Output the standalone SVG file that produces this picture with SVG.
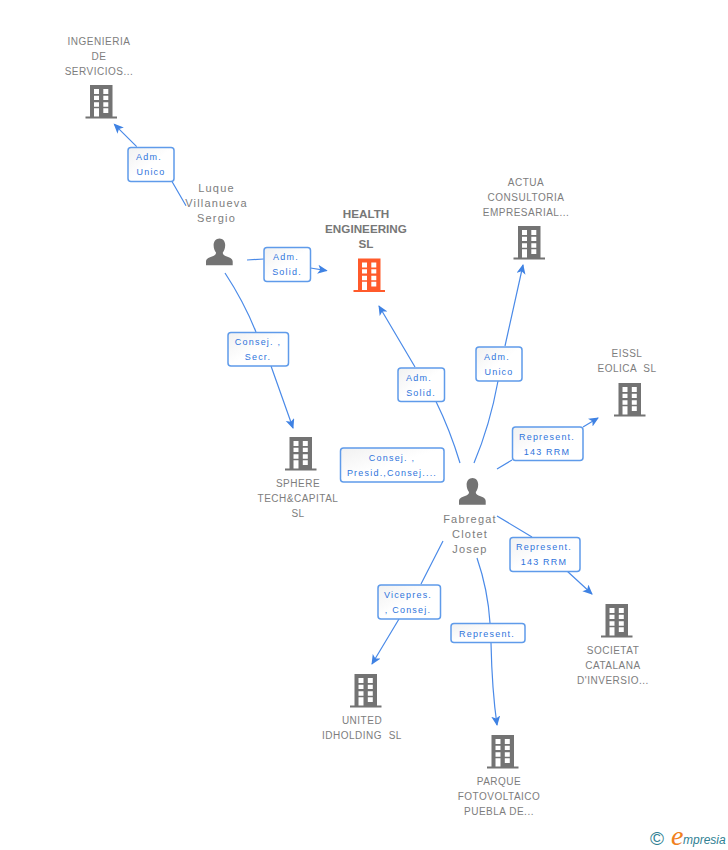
<svg xmlns="http://www.w3.org/2000/svg" width="728" height="850" viewBox="0 0 728 850">
<style>
text{font-family:"Liberation Sans",Arial,sans-serif;white-space:pre}
.n{font-size:10px;fill:#7d7d7d;text-anchor:middle;letter-spacing:.5px}
.p{font-size:11px;fill:#7d7d7d;text-anchor:middle;letter-spacing:1.2px}
.h{font-size:11.7px;font-weight:bold;fill:#777;text-anchor:middle}
.l{font-size:9px;fill:#2f74dc;text-anchor:middle;letter-spacing:1.2px}
.c{fill:none;stroke:#4a8ae8;stroke-width:1.2}
.b{fill:url(#g);stroke:#5f9bea;stroke-width:1.5}
</style>
<defs>
<linearGradient id="g" x1="0" y1="0" x2="1" y2="1"><stop offset="0" stop-color="#f1f1f1"/><stop offset=".5" stop-color="#fff"/></linearGradient>
<marker id="a" markerWidth="11" markerHeight="10" refX="9" refY="4.5" orient="auto" markerUnits="userSpaceOnUse"><path d="M0 0L10 4.5L0 9L2.5 4.5Z" fill="#3f82e3"/></marker>
<symbol id="bld" width="32" height="34" viewBox="0 0 32 34" overflow="visible">
<path fill-rule="evenodd" fill="currentColor" d="M4.5 0H27V31.5H31.5V33.5H0V31.5H4.5ZM8.5 4V9H13.5V4ZM17.8 4V9H22.8V4ZM8.5 10.7V15H13.5V10.7ZM17.8 10.7V15H22.8V10.7ZM8.5 17.3V21.7H13.5V17.3ZM17.8 17.3V21.7H22.8V17.3ZM8.5 23.3V31.5H13.5V23.3ZM17.8 23.3V28H22.8V23.3Z"/>
</symbol>
<symbol id="psn" width="27" height="27" viewBox="0 0 27 27" overflow="visible">
<path fill="#737373" d="M13.500 0C16.800 0 19.200 2.800 19.200 6.500C19.200 10 18 12.500 16.800 14C16.800 15.800 17.500 16.600 19.500 17.400C23 18.700 26.700 19.600 26.700 23V26.700H0V23C0 19.600 3.800 18.700 7.300 17.400C9.300 16.600 10 15.800 10 14C8.800 12.500 7.600 10 7.600 6.500C7.600 2.800 10.200 0 13.500 0Z"/>
</symbol>
</defs>
<g id="connectors">
<path class="c" d="M186 205.700L171.700 181M136.700 146.700L114.300 124.300" marker-end="url(#a)"/>
<path class="c" d="M247 260L263.700 259M310.500 268L326.700 270.700" marker-end="url(#a)"/>
<path class="c" d="M225 273Q244 302 256 332M271 366L293 428" marker-end="url(#a)"/>
<path class="c" d="M460 463Q450 430 436 401.500M415 367L379 306" marker-end="url(#a)"/>
<path class="c" d="M474 463Q490 425 498 381M505 346L523 265" marker-end="url(#a)"/>
<path class="c" d="M497 469L512 460M583 427L598 418" marker-end="url(#a)"/>
<path class="c" d="M497 516L532 537M567 571L592 594" marker-end="url(#a)"/>
<path class="c" d="M443 541L421 584M399 619L372 664" marker-end="url(#a)"/>
<path class="c" d="M477 558Q488 590 490 623M491 643Q492 690 497 725" marker-end="url(#a)"/>
</g>
<g id="n-ingenieria" style="color:#737373"><text class="n" x="99" y="45">INGENIERIA</text><text class="n" x="99" y="60">DE</text><text class="n" x="99" y="75">SERVICIOS...</text><use href="#bld" x="85.500" y="85"/></g>
<g id="n-luque"><text class="p" x="216.500" y="192">Luque</text><text class="p" x="216.500" y="207">Villanueva</text><text class="p" x="216.500" y="222">Sergio</text><use href="#psn" x="206" y="238.500"/></g>
<g id="n-health" style="color:#ff5a2b"><text class="h" x="366" y="218">HEALTH</text><text class="h" x="366" y="233">ENGINEERING</text><text class="h" x="366" y="248">SL</text><use href="#bld" x="353.500" y="258.500"/></g>
<g id="n-actua" style="color:#737373"><text class="n" x="526" y="186">ACTUA</text><text class="n" x="526" y="201">CONSULTORIA</text><text class="n" x="526" y="216">EMPRESARIAL...</text><use href="#bld" x="513.500" y="226"/></g>
<g id="n-eissl" style="color:#737373"><text class="n" x="627" y="357">EISSL</text><text class="n" x="627" y="372">EOLICA  SL</text><use href="#bld" x="614" y="383"/></g>
<g id="n-sphere" style="color:#737373"><use href="#bld" x="285" y="437"/><text class="n" x="298" y="487">SPHERE</text><text class="n" x="298" y="502">TECH&amp;CAPITAL</text><text class="n" x="298" y="517">SL</text></g>
<g id="n-fabregat"><use href="#psn" x="459" y="478"/><text class="p" x="470" y="523">Fabregat</text><text class="p" x="470" y="538">Clotet</text><text class="p" x="470" y="553">Josep</text></g>
<g id="n-societat" style="color:#737373"><use href="#bld" x="601" y="604"/><text class="n" x="613" y="654">SOCIETAT</text><text class="n" x="613" y="669">CATALANA</text><text class="n" x="613" y="684">D'INVERSIO...</text></g>
<g id="n-united" style="color:#737373"><use href="#bld" x="350" y="674"/><text class="n" x="362" y="724">UNITED</text><text class="n" x="362" y="739">IDHOLDING  SL</text></g>
<g id="n-parque" style="color:#737373"><use href="#bld" x="487" y="735"/><text class="n" x="499" y="785">PARQUE</text><text class="n" x="499" y="800">FOTOVOLTAICO</text><text class="n" x="499" y="815">PUEBLA DE...</text></g>
<g id="labels">
<g><rect class="b" x="128" y="147.500" width="46" height="34" rx="3"/><text class="l" x="149" y="160">Adm.</text><text class="l" x="151" y="175">Unico</text></g>
<g><rect class="b" x="264" y="247.500" width="46.500" height="34" rx="3"/><text class="l" x="286" y="260">Adm.</text><text class="l" x="287" y="275">Solid.</text></g>
<g><rect class="b" x="228" y="332.500" width="60.500" height="33.500" rx="3"/><text class="l" x="258" y="345">Consej. ,</text><text class="l" x="258" y="360">Secr.</text></g>
<g><rect class="b" x="398" y="368" width="46.500" height="33.500" rx="3"/><text class="l" x="419" y="381">Adm.</text><text class="l" x="421" y="396">Solid.</text></g>
<g><rect class="b" x="476" y="347" width="46" height="34" rx="3"/><text class="l" x="497" y="360">Adm.</text><text class="l" x="499" y="375">Unico</text></g>
<g><rect class="b" x="512.500" y="427" width="70.500" height="33.500" rx="3"/><text class="l" x="547" y="440">Represent.</text><text class="l" x="547" y="455">143 RRM</text></g>
<g><rect class="b" x="340.500" y="448" width="103.500" height="34" rx="3"/><text class="l" x="392" y="461">Consej. ,</text><text class="l" x="392" y="476">Presid.,Consej....</text></g>
<g><rect class="b" x="510" y="537.500" width="70" height="34" rx="3"/><text class="l" x="544" y="550">Represent.</text><text class="l" x="544" y="565">143 RRM</text></g>
<g><rect class="b" x="378" y="585" width="62.500" height="34" rx="3"/><text class="l" x="408" y="598">Vicepres.</text><text class="l" x="408" y="613">, Consej.</text></g>
<g><rect class="b" x="451" y="623.500" width="74" height="19" rx="3"/><text class="l" x="487" y="637">Represent.</text></g>
</g>
<g id="logo"><text x="650" y="845" font-size="19" fill="#2f7f93">©</text><text x="671" y="845" font-size="28" font-style="italic" fill="#f08020" style="font-family:'Liberation Serif',serif">e</text><text x="683" y="844" font-size="12" font-style="italic" fill="#2f7f93">mpresia</text></g>
</svg>
